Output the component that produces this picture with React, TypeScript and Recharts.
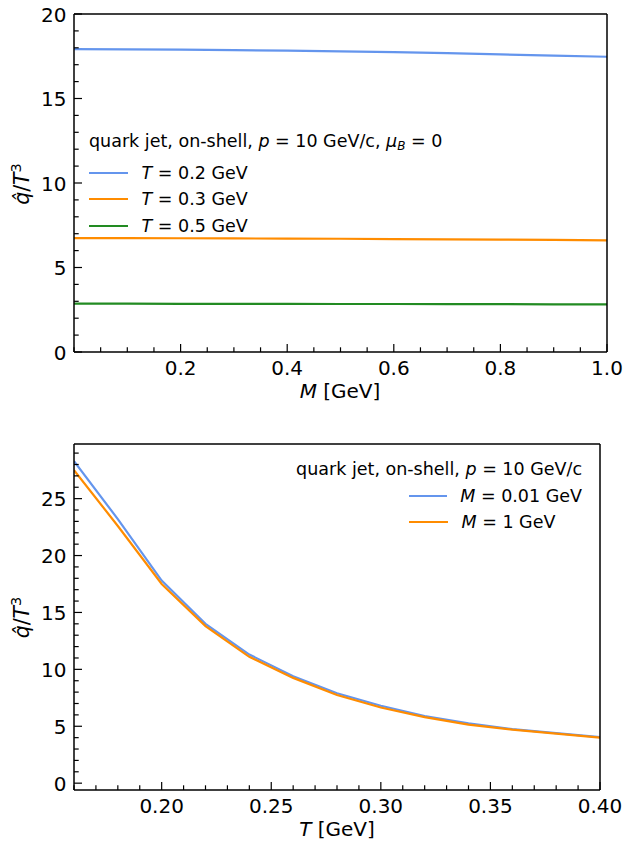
import React from 'react';
import { LineChart, Line, XAxis, YAxis, Legend } from 'recharts';

const FONT = '"DejaVu Sans", sans-serif';

// qhat/T^3 against jet mass M, one curve per temperature
const massGeV = [0.0, 0.1, 0.2, 0.3, 0.4, 0.5, 0.6, 0.7, 0.8, 0.9, 1.0];
const qhatT02 = [17.92, 17.91, 17.89, 17.86, 17.83, 17.79, 17.74, 17.68, 17.61, 17.54, 17.47];
const qhatT03 = [6.74, 6.74, 6.73, 6.72, 6.71, 6.7, 6.68, 6.67, 6.65, 6.63, 6.61];
const qhatT05 = [2.86, 2.86, 2.85, 2.85, 2.85, 2.84, 2.84, 2.83, 2.83, 2.82, 2.82];

// qhat/T^3 against temperature T, one curve per mass
const tempGeV = [0.16, 0.18, 0.2, 0.22, 0.24, 0.26, 0.28, 0.3, 0.32, 0.34, 0.36, 0.38, 0.4];
const qhatM001 = [28.3, 23.2, 17.8, 14.0, 11.3, 9.4, 7.9, 6.8, 5.9, 5.25, 4.75, 4.4, 4.05];
const qhatM1 = [27.5, 22.6, 17.5, 13.8, 11.1, 9.25, 7.75, 6.65, 5.8, 5.15, 4.7, 4.35, 4.0];

// labelled tick positions
const massTicks = [0.2, 0.4, 0.6, 0.8, 1.0];
const qhatTicksTop = [0, 5, 10, 15, 20];
const tempTicks = [0.2, 0.25, 0.3, 0.35, 0.4];
const qhatTicksBottom = [0, 5, 10, 15, 20, 25];

const COLORS = { blue: '#6495ED', orange: '#FF8C00', green: '#228B22' };

const steps = (from: number, to: number, step: number) =>
  Array.from({ length: Math.round((to - from) / step) + 1 }, (_, i) => +(from + i * step).toFixed(4));

const isIn = (list: number[], v: number) => list.some((m) => Math.abs(m - v) < 1e-6);

const massData = massGeV.map((m, i) => ({ m, t02: qhatT02[i], t03: qhatT03[i], t05: qhatT05[i] }));
const tempData = tempGeV.map((t, i) => ({ t, m001: qhatM001[i], m1: qhatM1[i] }));

// inward ticks, label only on the major ones
const xTick = (major: number[], digits: number) => (props: any) => {
  const { x, y, payload } = props;
  const isMajor = isIn(major, payload.value);
  return (
    <g>
      <line x1={x} x2={x} y1={y} y2={y - (isMajor ? 8 : 4.7)} stroke="#000" strokeWidth={1.2} />
      {isMajor && (
        <text x={x} y={y + 22.5} textAnchor="middle" fontSize={20} fontFamily={FONT} fill="#000">
          {payload.value.toFixed(digits)}
        </text>
      )}
    </g>
  );
};

const yTick = (major: number[]) => (props: any) => {
  const { x, y, payload } = props;
  const isMajor = isIn(major, payload.value);
  return (
    <g>
      <line x1={x} x2={x + (isMajor ? 8 : 4.7)} y1={y} y2={y} stroke="#000" strokeWidth={1.2} />
      {isMajor && (
        <text x={x - 7.5} y={y + 7.6} textAnchor="end" fontSize={20} fontFamily={FONT} fill="#000">
          {payload.value}
        </text>
      )}
    </g>
  );
};

// "T = 0.2 GeV" -> italic symbol, then the rest
const symbolLabel = (text: string) => {
  const [sym, ...rest] = text.split(' ');
  return (
    <>
      <i>{sym}</i> {rest.join(' ')}
    </>
  );
};

const LegendBox = ({ payload, title, indent, alignTitle }: any) => (
  <div style={{ fontFamily: FONT, fontSize: 17.5, color: '#000', lineHeight: '26.5px' }}>
    <div style={{ whiteSpace: 'nowrap', textAlign: alignTitle }}>{title}</div>
    {(payload || []).map((entry: any) => (
      <div
        key={entry.value}
        style={{ display: 'flex', alignItems: 'center', height: 26.5, paddingLeft: indent, whiteSpace: 'nowrap' }}
      >
        <span style={{ display: 'inline-block', width: 39, height: 2.3, background: entry.color, marginRight: 13.5 }} />
        <span>{symbolLabel(entry.value)}</span>
      </div>
    ))}
  </div>
);

const frameLine = { stroke: '#000', strokeWidth: 1.5 };

const YTitle = ({ cy }: { cy: number }) => (
  <text
    x={28.5}
    y={cy}
    transform={`rotate(-90, 28.5, ${cy})`}
    textAnchor="middle"
    fontSize={20.5}
    fontFamily={FONT}
    fill="#000"
  >
    <tspan fontStyle="italic">q̂</tspan>/<tspan fontStyle="italic">T</tspan>
    <tspan dy={-8} fontSize={14.5}>3</tspan>
  </text>
);

// axes are 1px deep so that they still render; margins absorb that pixel
const MassChart = () => (
  <LineChart width={626} height={420} data={massData} margin={{ top: 13, right: 18, bottom: 67, left: 73 }}>
    <XAxis
      dataKey="m"
      type="number"
      domain={[0, 1]}
      allowDataOverflow
      ticks={steps(0, 1, 0.05)}
      interval={0}
      height={1}
      tickLine={false}
      tickSize={0}
      tickMargin={0}
      axisLine={frameLine}
      tick={xTick(massTicks, 1)}
    />
    <XAxis xAxisId="frameTop" orientation="top" type="number" domain={[0, 1]} height={1} tick={false} tickLine={false} axisLine={frameLine} />
    <YAxis
      type="number"
      domain={[0, 20]}
      allowDataOverflow
      ticks={steps(0, 20, 1)}
      interval={0}
      width={1}
      tickLine={false}
      tickSize={0}
      tickMargin={0}
      axisLine={frameLine}
      tick={yTick(qhatTicksTop)}
    />
    <YAxis yAxisId="frameRight" orientation="right" type="number" domain={[0, 1]} width={1} tick={false} tickLine={false} axisLine={frameLine} />
    <Legend
      layout="horizontal"
      verticalAlign="middle"
      align="center"
      wrapperStyle={{ left: 89, top: 128, width: 420 }}
      content={(p: any) => (
        <LegendBox
          payload={p.payload}
          indent={0}
          alignTitle="left"
          title={
            <>
              quark jet, on-shell, <i>p</i> = 10 GeV/c, <i>μ</i>
              <sub style={{ fontSize: 12, fontStyle: 'italic', verticalAlign: '-3px' }}>B</sub> = 0
            </>
          }
        />
      )}
    />
    <Line dataKey="t02" name="T = 0.2 GeV" type="linear" stroke={COLORS.blue} strokeWidth={2.2} dot={false} isAnimationActive={false} />
    <Line dataKey="t03" name="T = 0.3 GeV" type="linear" stroke={COLORS.orange} strokeWidth={2.2} dot={false} isAnimationActive={false} />
    <Line dataKey="t05" name="T = 0.5 GeV" type="linear" stroke={COLORS.green} strokeWidth={2.2} dot={false} isAnimationActive={false} />
  </LineChart>
);

const TempChart = () => (
  <LineChart width={626} height={421} data={tempData} margin={{ top: 23, right: 25, bottom: 50, left: 73 }}>
    <XAxis
      dataKey="t"
      type="number"
      domain={[0.16, 0.4]}
      allowDataOverflow
      ticks={steps(0.16, 0.4, 0.01)}
      interval={0}
      height={1}
      tickLine={false}
      tickSize={0}
      tickMargin={0}
      axisLine={frameLine}
      tick={xTick(tempTicks, 2)}
    />
    <XAxis xAxisId="frameTop" orientation="top" type="number" domain={[0, 1]} height={1} tick={false} tickLine={false} axisLine={frameLine} />
    <YAxis
      type="number"
      domain={[-0.6, 29.8]}
      allowDataOverflow
      ticks={steps(0, 29, 1)}
      interval={0}
      width={1}
      tickLine={false}
      tickSize={0}
      tickMargin={0}
      axisLine={frameLine}
      tick={yTick(qhatTicksBottom)}
    />
    <YAxis yAxisId="frameRight" orientation="right" type="number" domain={[0, 1]} width={1} tick={false} tickLine={false} axisLine={frameLine} />
    <Legend
      layout="horizontal"
      verticalAlign="middle"
      align="center"
      wrapperStyle={{ left: 262, top: 36, width: 320 }}
      content={(p: any) => (
        <LegendBox
          payload={p.payload}
          indent={147}
          alignTitle="right"
          title={
            <>
              quark jet, on-shell, <i>p</i> = 10 GeV/c
            </>
          }
        />
      )}
    />
    <Line dataKey="m001" name="M = 0.01 GeV" type="linear" stroke={COLORS.blue} strokeWidth={2.2} dot={false} isAnimationActive={false} />
    <Line dataKey="m1" name="M = 1 GeV" type="linear" stroke={COLORS.orange} strokeWidth={2.2} dot={false} isAnimationActive={false} />
  </LineChart>
);

export default function App() {
  return (
    <div style={{ position: 'absolute', left: 0, top: 0, width: 626, height: 841, background: '#fff' }}>
      <div style={{ position: 'absolute', left: 0, top: 0 }}>
        <MassChart />
      </div>
      <div style={{ position: 'absolute', left: 0, top: 420 }}>
        <TempChart />
      </div>
      <svg width={626} height={841} style={{ position: 'absolute', left: 0, top: 0, pointerEvents: 'none' }}>
        <YTitle cy={184} />
        <YTitle cy={617.5} />
        <text x={340} y={397.5} textAnchor="middle" fontSize={20} fontFamily={FONT} fill="#000">
          <tspan fontStyle="italic">M</tspan> [GeV]
        </text>
        <text x={337} y={836} textAnchor="middle" fontSize={20} fontFamily={FONT} fill="#000">
          <tspan fontStyle="italic">T</tspan> [GeV]
        </text>
      </svg>
    </div>
  );
}
